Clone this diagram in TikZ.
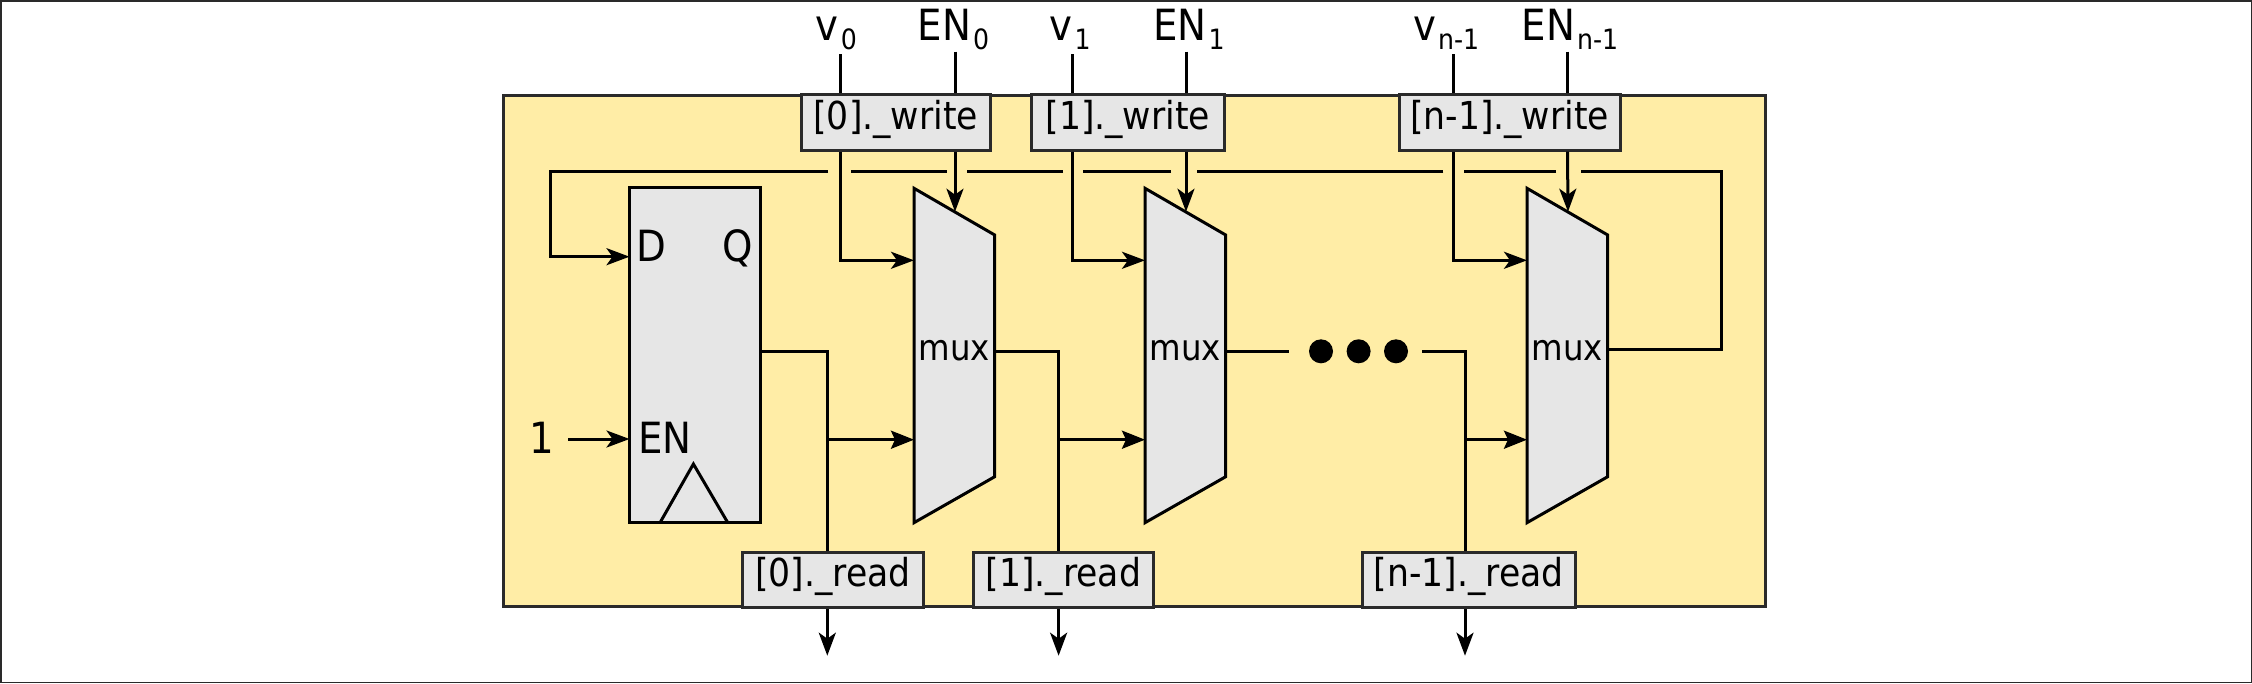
\documentclass[tikz,border=0pt]{standalone}
\usepackage{fontspec}
\setmainfont{DejaVu Sans Condensed}
\usetikzlibrary{arrows.meta}
\definecolor{panel}{HTML}{FFEDA6}
\definecolor{blockgray}{HTML}{E6E6E6}
\definecolor{framegray}{HTML}{2A2A2A}
\newcommand{\subtxt}[1]{\kern2pt\raisebox{-9.3pt}{\fontsize{28}{28}\selectfont #1}}
\newcommand{\muxunit}[2]{%
  \path[blockshape] (#2,188.3) -- (#2+80.7,235) -- (#2+80.7,476.7) -- (#2,522.7) -- cycle;
  \node[muxlabel] (#1label) at (#2+40.3,360.7) {mux};
  \coordinate (#1a) at (#2,260.3);
  \coordinate (#1b) at (#2,439.7);
  \coordinate (#1sel) at (#2+41,211.7);
  \coordinate (#1out) at (#2+80.7,351);
}
\tikzset{
  wire/.style={line width=3pt,draw=black,line cap=butt,line join=miter},
  arrowwire/.style={wire,-{Stealth[length=23pt,width=17pt,inset=6pt]}},
  solidarrow/.style={wire,-{Stealth[length=23pt,width=18pt,inset=4pt]}},
  blockshape/.style={fill=blockgray,draw=black,line width=3pt,line join=miter},
  portbox/.style={rectangle,fill=blockgray,draw=framegray,line width=3pt,inner sep=0pt,
    minimum height=55.7pt,text height=21pt,text depth=7pt,
    font=\fontsize{38.5}{38.5}\selectfont},
  bigtxt/.style={inner sep=0pt,anchor=base west,font=\fontsize{43}{43}\selectfont},
  muxlabel/.style={inner sep=0pt,anchor=base,font=\fontsize{36}{36}\selectfont},
}
\begin{document}
\begin{tikzpicture}[x=1pt,y=-1pt]
\useasboundingbox (0,0) rectangle (2252,683);
\draw[line width=1.5pt,draw=framegray] (0.75,0.75) rectangle (2251.25,682.25);
\draw[fill=panel,draw=framegray,line width=3pt] (503.7,95) rectangle (1765,606.7);

% top labels
\node[bigtxt] (lv0) at (815.7,40) {v\subtxt{0}};
\node[bigtxt] (len0) at (917.5,40) {EN\subtxt{0}};
\node[bigtxt] (lv1) at (1049.6,40) {v\subtxt{1}};
\node[bigtxt] (len1) at (1153,40) {EN\subtxt{1}};
\node[bigtxt] (lvn) at (1413,40) {v\subtxt{n-1}};
\node[bigtxt] (lenn) at (1521.5,40) {EN\subtxt{n-1}};

% port boxes
\node[portbox,minimum width=188.6pt] (w0) at (895.7,122.2) {[0].\_write};
\node[portbox,minimum width=193.6pt] (w1) at (1127.8,122.2) {[1].\_write};
\node[portbox,minimum width=221pt] (wn) at (1509.5,122.2) {[n-1].\_write};
\node[portbox,minimum width=180.8pt] (r0) at (832.9,579.9) {[0].\_read};
\node[portbox,minimum width=179.3pt] (r1) at (1063.4,579.9) {[1].\_read};
\node[portbox,minimum width=213.5pt] (rn) at (1468.8,579.9) {[n-1].\_read};

% register
\path[blockshape] (629.5,187.3) rectangle (760,522.7);
\node[bigtxt] (dlabel) at (636,261) {D};
\node[bigtxt] (qlabel) at (722,261) {Q};
\node[bigtxt] (enlabel) at (638,453) {EN};
\node[bigtxt] (onelabel) at (529,453) {1};
\draw[wire,line join=miter] (660,522.7) -- (693.4,464) -- (727.8,522.7);
\coordinate (regD) at (629.5,256.7);
\coordinate (regEN) at (629.5,439);
\coordinate (regQ) at (762,351);
\coordinate (oneEnd) at (568,439);

% muxes
\muxunit{m0}{914}
\muxunit{m1}{1145}
\muxunit{mn}{1527}

% feedback bus with gaps
\coordinate (fbL) at (550.5,171);
\coordinate (g1a) at (828,171);
\coordinate (g1b) at (851.4,171);
\coordinate (g2a) at (946.5,171);
\coordinate (g2b) at (966.6,171);
\coordinate (g3a) at (1063,171);
\coordinate (g3b) at (1083,171);
\coordinate (g4a) at (1171,171);
\coordinate (g4b) at (1197,171);
\coordinate (g5a) at (1443.4,171);
\coordinate (g5b) at (1464,171);
\coordinate (g6a) at (1556,171);
\coordinate (g6b) at (1581,171);
\coordinate (fbR) at (1721,171);
\coordinate (mnret) at (1607,349.3);
\draw[wire] (mnret) -- (mnret -| fbR) -- (fbR) -- (g6b);
\draw[wire] (g6a) -- (g5b);
\draw[wire] (g5a) -- (g4b);
\draw[wire] (g4a) -- (g3b);
\draw[wire] (g3a) -- (g2b);
\draw[wire] (g2a) -- (g1b);
\draw[arrowwire] (g1a) -- (fbL) -- (fbL |- regD) -- (regD);

\draw[arrowwire] (oneEnd) -- (regEN);

% inputs
\coordinate (tv0) at (840.7,54);
\coordinate (ten0) at (955,51.7);
\coordinate (tv1) at (1072.4,54);
\coordinate (ten1) at (1186,51.7);
\coordinate (tvn) at (1453,54);
\coordinate (tenn) at (1567.5,51.7);
\draw[wire] (tv0) -- (tv0 |- w0.north);
\draw[wire] (ten0) -- (ten0 |- w0.north);
\draw[wire] (tv1) -- (tv1 |- w1.north);
\draw[wire] (ten1) -- (ten1 |- w1.north);
\draw[wire] (tvn) -- (tvn |- wn.north);
\draw[wire] (tenn) -- (tenn |- wn.north);

\draw[arrowwire] (tv0 |- w0.south) -- (tv0 |- m0a) -- (m0a);
\draw[arrowwire] (tv1 |- w1.south) -- (tv1 |- m1a) -- (m1a);
\draw[arrowwire] (tvn |- wn.south) -- (tvn |- mna) -- (mna);
\draw[arrowwire] (ten0 |- w0.south) -- (m0sel);
\draw[arrowwire] (ten1 |- w1.south) -- (m1sel);
\draw[arrowwire] (tenn |- wn.south) -- (mnsel);

% outputs and read taps
\coordinate (t0) at (827.3,351);
\coordinate (t1) at (1058.6,351);
\coordinate (tn) at (1465,351);
\coordinate (o0) at (827.3,655.7);
\coordinate (o1) at (1058.6,655.7);
\coordinate (on) at (1465,655.7);
\coordinate (stubA) at (1289.4,351);
\coordinate (stubB) at (1422.4,351);
\draw[wire] (regQ) -- (t0) -- (t0 |- r0.north);
\draw[wire] (m0out) -- (t1) -- (t1 |- r1.north);
\draw[wire] (m1out) -- (stubA);
\draw[wire] (stubB) -- (tn) -- (tn |- rn.north);
\draw[solidarrow] (t0 |- m0b) -- (m0b);
\draw[solidarrow] (t1 |- m1b) -- (m1b);
\draw[solidarrow] (tn |- mnb) -- (mnb);
\draw[arrowwire] (o0 |- r0.south) -- (o0);
\draw[arrowwire] (o1 |- r1.south) -- (o1);
\draw[arrowwire] (on |- rn.south) -- (on);

% ellipsis dots
\fill[black] (1321,351.3) circle[radius=12pt];
\fill[black] (1358.6,351.3) circle[radius=12pt];
\fill[black] (1396,351.3) circle[radius=12pt];
\end{tikzpicture}
\end{document}
